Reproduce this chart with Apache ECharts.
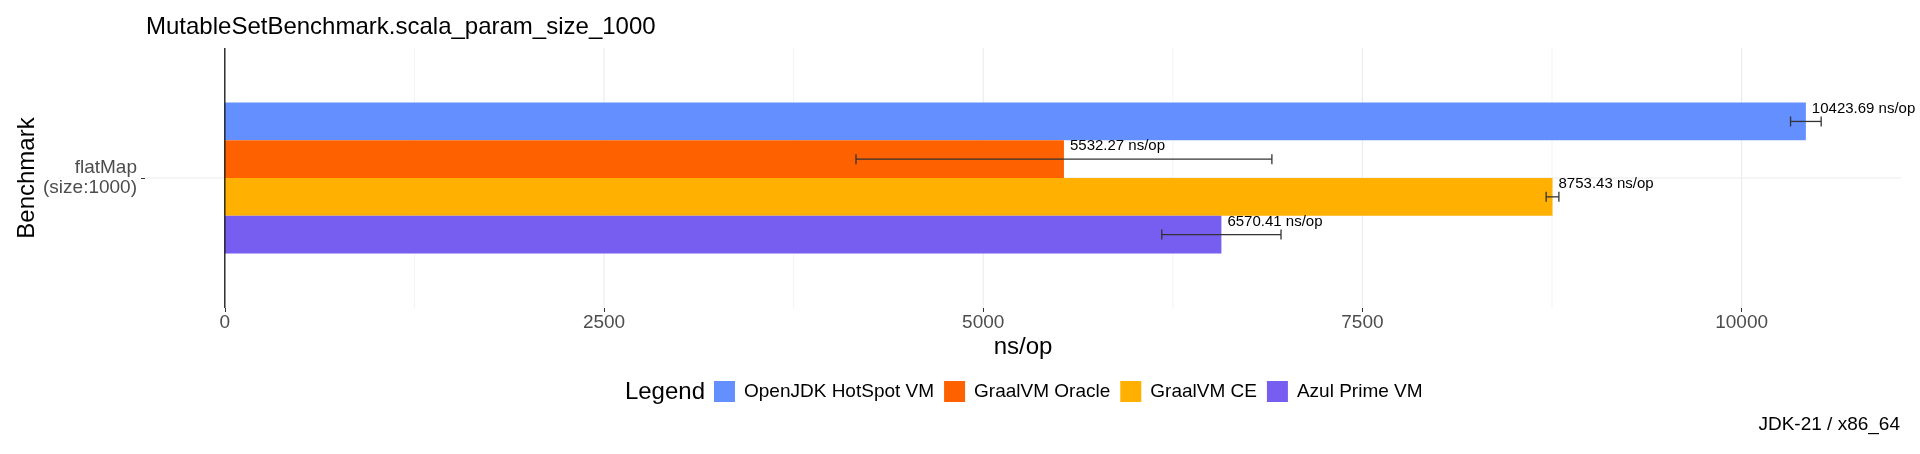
<!DOCTYPE html>
<html>
<head>
<meta charset="utf-8">
<script src="https://cdn.jsdelivr.net/npm/echarts@6/dist/echarts.min.js"></script>
<style>
  html, body { margin: 0; padding: 0; background: #ffffff; }
  #chart { width: 1920px; height: 454px; }
</style>
</head>
<body>
<div id="chart"></div>
<script>
// ---- data ----
const categories = ['flatMap\n(size:1000)'];
const vmNames = ['OpenJDK HotSpot VM', 'GraalVM Oracle', 'GraalVM CE', 'Azul Prime VM'];
const scores = [10423.69, 5532.27, 8753.43, 6570.41];
const scoreErrors = [101, 1371, 42, 393];
const xTicks = [0, 2500, 5000, 7500, 10000];
const titleText = 'MutableSetBenchmark.scala_param_size_1000';
const captionText = 'JDK-21 / x86_64';
const unit = 'ns/op';

// ---- styles ----
const colors = ['#648FFF', '#FE6100', '#FFB000', '#785EF0'];
const FONT = '"Liberation Sans", Arimo, Arial, sans-serif';
const BAR_W = 37.7;

// axis range with ggplot-like 5% expansion
const hi = Math.max(...scores.map((v, i) => v + scoreErrors[i]));
const pad = hi * 0.05;
const xMin = -pad, xMax = hi + pad;

// gridlines (major at ticks, minor at midpoints)
const gridData = [];
xTicks.forEach(v => gridData.push([v, 0, 1]));
for (let i = 0; i < xTicks.length - 1; i++) gridData.push([(xTicks[i] + xTicks[i + 1]) / 2, 0, 0]);

const chart = echarts.init(document.getElementById('chart'), null, { renderer: 'canvas' });

const barSeries = vmNames.map((name, i) => ({
  type: 'bar',
  name: name,
  data: [scores[i]],
  barWidth: BAR_W,
  barGap: '0%',
  z: 3,
  itemStyle: { color: colors[i] },
  label: {
    show: true,
    position: 'right',
    distance: 6,
    offset: [0, -13],
    fontFamily: FONT,
    fontSize: 15,
    color: '#000000',
    formatter: p => p.value.toFixed(2) + ' ' + unit
  }
}));

const errData = scores.map((v, i) => [v - scoreErrors[i], v + scoreErrors[i], 0, i]);

const option = {
  animation: false,
  backgroundColor: '#ffffff',
  textStyle: { fontFamily: FONT },
  title: {
    text: titleText,
    left: 146, top: 15, padding: 0,
    textStyle: { fontFamily: FONT, fontSize: 24, fontWeight: 'normal', color: '#000000' }
  },
  legend: {
    data: vmNames,
    left: 714, top: 381, padding: 0,
    icon: 'rect',
    itemWidth: 21, itemHeight: 21, itemGap: 10,
    textStyle: { fontFamily: FONT, fontSize: 19, color: '#000000', padding: [0, 0, 0, 4] }
  },
  grid: { left: 145, right: 19, top: 48, bottom: 146, containLabel: false },
  xAxis: {
    type: 'value',
    min: xMin, max: xMax,
    axisLine: { show: false, onZero: false },
    splitLine: { show: false },
    axisTick: { show: true, customValues: xTicks, length: 4, lineStyle: { color: '#333333', width: 1 } },
    axisLabel: {
      customValues: xTicks,
      formatter: v => String(v),
      fontFamily: FONT, fontSize: 19, color: '#4D4D4D', margin: 5
    }
  },
  yAxis: {
    type: 'category',
    data: categories,
    axisLine: { show: false, onZero: false },
    axisTick: { show: true, alignWithLabel: true, length: 4, lineStyle: { color: '#333333', width: 1 } },
    splitLine: { show: false },
    axisLabel: { fontFamily: FONT, fontSize: 19, color: '#4D4D4D', lineHeight: 20, margin: 8 }
  },
  graphic: [
    { type: 'text', x: 27, y: 178, rotation: Math.PI / 2,
      style: { text: 'Benchmark', fontFamily: FONT, fontSize: 24, fill: '#000000', align: 'center', verticalAlign: 'middle' } },
    { type: 'text', x: 1023, y: 347,
      style: { text: unit, fontFamily: FONT, fontSize: 24, fill: '#000000', align: 'center', verticalAlign: 'middle' } },
    { type: 'text', x: 705, y: 392,
      style: { text: 'Legend', fontFamily: FONT, fontSize: 24, fill: '#000000', align: 'right', verticalAlign: 'middle' } },
    { type: 'text', x: 1900, y: 425,
      style: { text: captionText, fontFamily: FONT, fontSize: 19, fill: '#000000', align: 'right', verticalAlign: 'middle' } }
  ],
  series: [
    {
      type: 'custom', name: 'grid-x', z: 0, silent: true,
      data: gridData,
      encode: { x: 0, y: 1 },
      renderItem: (params, api) => {
        const cs = params.coordSys;
        const x = api.coord([api.value(0), 0])[0];
        const major = api.value(2) === 1;
        return { type: 'line', shape: { x1: x, y1: cs.y, x2: x, y2: cs.y + cs.height },
          style: { stroke: '#EBEBEB', lineWidth: major ? 1.1 : 0.6 } };
      }
    },
    {
      type: 'custom', name: 'grid-y', z: 0, silent: true,
      data: categories.map((c, i) => [0, i]),
      encode: { x: 0, y: 1 },
      renderItem: (params, api) => {
        const cs = params.coordSys;
        const y = api.coord([0, api.value(1)])[1];
        return { type: 'line', shape: { x1: cs.x, y1: y, x2: cs.x + cs.width, y2: y },
          style: { stroke: '#EBEBEB', lineWidth: 1.1 } };
      }
    },
    ...barSeries,
    {
      type: 'custom', name: 'zero-line', z: 4, silent: true,
      data: [[0, 0]],
      encode: { x: 0, y: 1 },
      renderItem: (params, api) => {
        const cs = params.coordSys;
        const x = api.coord([api.value(0), 0])[0];
        return { type: 'line', shape: { x1: x, y1: cs.y, x2: x, y2: cs.y + cs.height },
          style: { stroke: '#000000', lineWidth: 1.2 } };
      }
    },
    {
      type: 'custom', name: 'errors', z: 5, silent: true,
      data: errData,
      encode: { x: [0, 1], y: 2 },
      renderItem: (params, api) => {
        const i = api.value(3);
        const p1 = api.coord([api.value(0), api.value(2)]);
        const p2 = api.coord([api.value(1), api.value(2)]);
        const y = p1[1] + (i - (vmNames.length - 1) / 2) * BAR_W;
        const h = 5;
        const st = { stroke: '#333333', lineWidth: 1.3 };
        return { type: 'group', children: [
          { type: 'line', shape: { x1: p1[0], y1: y, x2: p2[0], y2: y }, style: st },
          { type: 'line', shape: { x1: p1[0], y1: y - h, x2: p1[0], y2: y + h }, style: st },
          { type: 'line', shape: { x1: p2[0], y1: y - h, x2: p2[0], y2: y + h }, style: st }
        ] };
      }
    }
  ]
};

chart.setOption(option);
</script>
</body>
</html>
